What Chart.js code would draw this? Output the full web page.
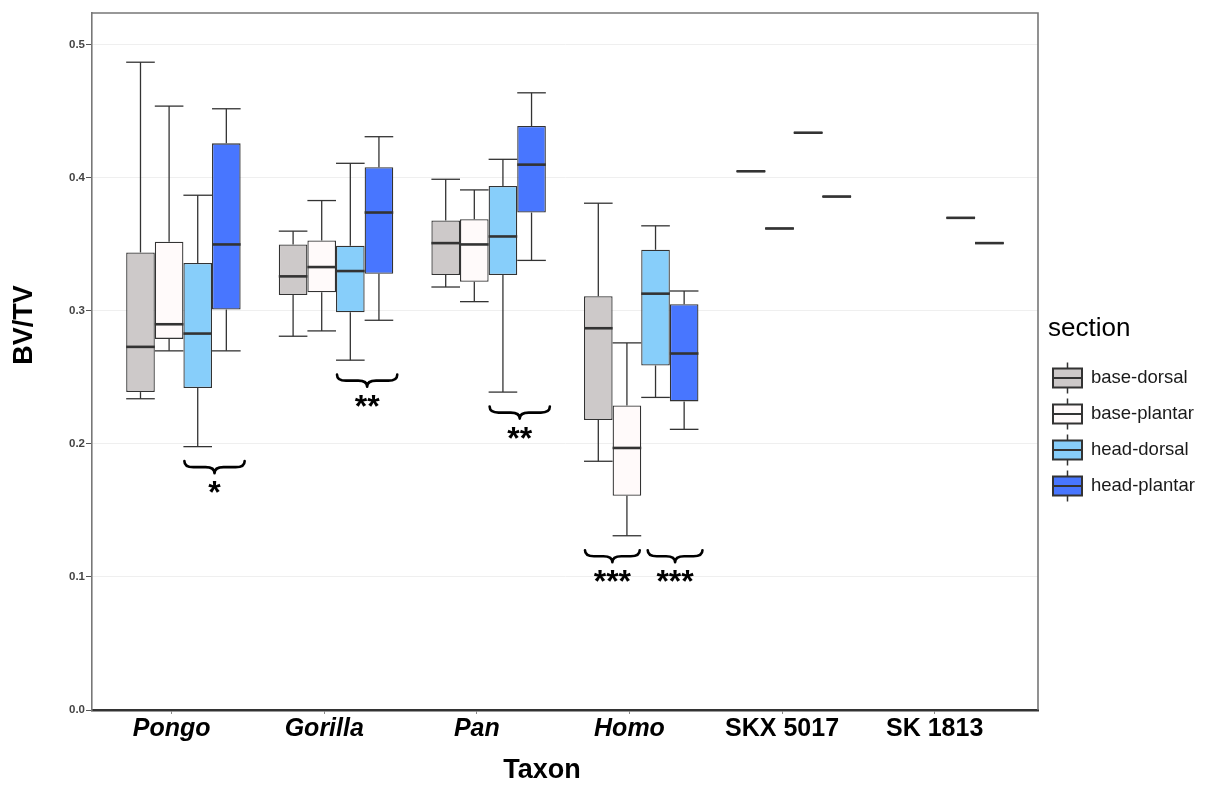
<!DOCTYPE html>
<html>
<head>
<meta charset="utf-8">
<script src="https://cdn.jsdelivr.net/npm/chart.js@4/dist/chart.umd.min.js"></script>
<style>
  html, body { margin: 0; padding: 0; background: #ffffff; }
  #wrap { width: 1205px; height: 785px; position: relative; }
</style>
</head>
<body>
<div id="wrap"><canvas id="chart" width="1205" height="785"></canvas></div>
<script>
// ---- data ---------------------------------------------------------------
const taxa = ['Pongo', 'Gorilla', 'Pan', 'Homo', 'SKX 5017', 'SK 1813'];
const genusTaxa = ['Pongo', 'Gorilla', 'Pan', 'Homo'];
const sections = ['base-dorsal', 'base-plantar', 'head-dorsal', 'head-plantar'];
const yTickValues = [0.0, 0.1, 0.2, 0.3, 0.4, 0.5];

// [lower whisker, Q1, median, Q3, upper whisker] per taxon;
// fossil specimens contribute a single value, null = section not measured
const baseDorsal = [
  [0.234, 0.239, 0.273, 0.344, 0.487],
  [0.281, 0.312, 0.326, 0.350, 0.360],
  [0.318, 0.327, 0.351, 0.368, 0.399],
  [0.187, 0.218, 0.287, 0.311, 0.381],
  0.405,
  null
];
const basePlantar = [
  [0.270, 0.279, 0.290, 0.352, 0.454],
  [0.285, 0.314, 0.333, 0.353, 0.383],
  [0.307, 0.322, 0.350, 0.369, 0.391],
  [0.131, 0.161, 0.197, 0.229, 0.276],
  0.362,
  null
];
const headDorsal = [
  [0.198, 0.242, 0.283, 0.336, 0.387],
  [0.263, 0.299, 0.330, 0.349, 0.411],
  [0.239, 0.327, 0.356, 0.394, 0.414],
  [0.235, 0.259, 0.313, 0.346, 0.364],
  0.434,
  0.370
];
const headPlantar = [
  [0.270, 0.301, 0.350, 0.426, 0.452],
  [0.293, 0.328, 0.374, 0.408, 0.431],
  [0.338, 0.374, 0.410, 0.439, 0.464],
  [0.211, 0.232, 0.268, 0.305, 0.315],
  0.386,
  0.351
];

// pairwise differences between sections within a taxon
const comparisons = [
  { taxon: 'Pongo',   pair: ['head-dorsal', 'head-plantar'], label: '*' },
  { taxon: 'Gorilla', pair: ['head-dorsal', 'head-plantar'], label: '**' },
  { taxon: 'Pan',     pair: ['head-dorsal', 'head-plantar'], label: '**' },
  { taxon: 'Homo',    pair: ['base-dorsal', 'base-plantar'], label: '***' },
  { taxon: 'Homo',    pair: ['head-dorsal', 'head-plantar'], label: '***' }
];

// ---- styling ------------------------------------------------------------
const FONT = '"Liberation Sans", Arial, Helvetica, sans-serif';
const fills = ['#CDC9C9', '#FFFAFA', '#87CEFA', '#4876FF'];
const INK = '#333333';
const FRAME = '#777777';
const GROUP_SHIFT = 0.077;      // dodged groups sit slightly right of the tick
const BRACE_GAP = 14.5;         // px below the lowest whisker of a taxon
const BRACE_H = 12;
const BRACE_SEP = 8;            // px kept between neighbouring braces
const STAR_OFFSET = 26;

const summaries = [baseDorsal, basePlantar, headDorsal, headPlantar];
const fiveNum = s => (typeof s === 'number' ? [s, s, s, s, s] : s);

const datasets = sections.map((name, k) => ({
  label: name,
  data: summaries[k]
    .map((s, i) => {
      if (s == null) return null;
      const f = fiveNum(s);
      return { x: i + GROUP_SHIFT, y: [f[1], f[3]], stats: f, taxon: i };
    })
    .filter(Boolean),
  backgroundColor: fills[k],
  borderColor: INK,
  borderWidth: 1.3,
  borderSkipped: false,
  categoryPercentage: 0.75,
  barPercentage: 1.0
}));

function line(ctx, x1, y1, x2, y2) {
  ctx.beginPath();
  ctx.moveTo(x1, y1);
  ctx.lineTo(x2, y2);
  ctx.stroke();
}

// whiskers behind the boxes, medians on top
const boxplotParts = {
  id: 'boxplotParts',
  beforeDatasetsDraw(chart) {
    const { ctx } = chart;
    const ys = chart.scales.y;
    ctx.save();
    ctx.strokeStyle = INK;
    ctx.lineWidth = 1.3;
    chart.data.datasets.forEach((ds, d) => {
      chart.getDatasetMeta(d).data.forEach((bar, j) => {
        const [lo, q1, , q3, hi] = ds.data[j].stats;
        const cx = bar.x, h = bar.width / 2;
        line(ctx, cx, ys.getPixelForValue(hi), cx, ys.getPixelForValue(q3));
        line(ctx, cx, ys.getPixelForValue(q1), cx, ys.getPixelForValue(lo));
        line(ctx, cx - h, ys.getPixelForValue(hi), cx + h, ys.getPixelForValue(hi));
        line(ctx, cx - h, ys.getPixelForValue(lo), cx + h, ys.getPixelForValue(lo));
      });
    });
    ctx.restore();
  },
  afterDatasetsDraw(chart) {
    const { ctx } = chart;
    const ys = chart.scales.y;
    ctx.save();
    ctx.strokeStyle = INK;
    ctx.lineWidth = 2.6;
    chart.data.datasets.forEach((ds, d) => {
      chart.getDatasetMeta(d).data.forEach((bar, j) => {
        const med = ds.data[j].stats[2];
        const py = ys.getPixelForValue(med);
        line(ctx, bar.x - bar.width / 2, py, bar.x + bar.width / 2, py);
      });
    });
    ctx.restore();
  }
};

// curly braces with significance stars under compared pairs
const significance = {
  id: 'significance',
  afterDatasetsDraw(chart) {
    const { ctx } = chart;
    const ys = chart.scales.y;
    const barFor = (section, ti) => {
      const d = sections.indexOf(section);
      const j = chart.data.datasets[d].data.findIndex(p => p.taxon === ti);
      return chart.getDatasetMeta(d).data[j];
    };

    const braces = comparisons.map(c => {
      const ti = taxa.indexOf(c.taxon);
      let lowest = Infinity;
      summaries.forEach(s => { if (s[ti] != null) lowest = Math.min(lowest, fiveNum(s[ti])[0]); });
      const b1 = barFor(c.pair[0], ti), b2 = barFor(c.pair[1], ti);
      return {
        ti,
        label: c.label,
        top: ys.getPixelForValue(lowest) + BRACE_GAP,
        x0: b1.x - b1.width / 2 + 1,
        x1: b2.x + b2.width / 2 + 4
      };
    });
    // keep neighbouring braces of the same taxon apart
    for (let i = 1; i < braces.length; i++) {
      const p = braces[i - 1], b = braces[i];
      if (p.ti === b.ti && p.x1 > b.x0 - BRACE_SEP) {
        const m = (p.x1 + b.x0) / 2;
        p.x1 = m - BRACE_SEP / 2;
        b.x0 = m + BRACE_SEP / 2;
      }
    }

    ctx.save();
    braces.forEach(b => {
      const { x0, x1, top } = b;
      const xm = (x0 + x1) / 2, mid = top + BRACE_H / 2, r = BRACE_H * 0.75;
      ctx.strokeStyle = '#000000';
      ctx.lineWidth = 2.6;
      ctx.lineCap = 'round';
      ctx.lineJoin = 'round';
      ctx.beginPath();
      ctx.moveTo(x0, top);
      ctx.quadraticCurveTo(x0, mid, x0 + r, mid);
      ctx.lineTo(xm - r, mid);
      ctx.quadraticCurveTo(xm, mid, xm, top + BRACE_H);
      ctx.quadraticCurveTo(xm, mid, xm + r, mid);
      ctx.lineTo(x1 - r, mid);
      ctx.quadraticCurveTo(x1, mid, x1, top);
      ctx.stroke();

      ctx.fillStyle = '#000000';
      ctx.font = 'bold 32px ' + FONT;
      ctx.textAlign = 'center';
      ctx.textBaseline = 'alphabetic';
      const m = ctx.measureText(b.label);
      const yc = top + STAR_OFFSET;
      const base = yc + (m.actualBoundingBoxAscent - m.actualBoundingBoxDescent) / 2;
      ctx.fillText(b.label, xm, base);
    });
    ctx.restore();
  }
};

// top and right sides of the panel frame, axis titles and the legend
const frameAndLegend = {
  id: 'frameAndLegend',
  afterDraw(chart) {
    const { ctx, chartArea: a } = chart;
    ctx.save();
    ctx.strokeStyle = FRAME;
    ctx.lineWidth = 1.6;
    ctx.beginPath();
    ctx.moveTo(a.left, a.top);
    ctx.lineTo(a.right, a.top);
    ctx.lineTo(a.right, a.bottom);
    ctx.stroke();

    // axis titles
    ctx.fillStyle = '#000000';
    ctx.font = 'bold 27px ' + FONT;
    ctx.textAlign = 'center';
    ctx.textBaseline = 'middle';
    ctx.fillText('Taxon', 542, 771);
    ctx.save();
    ctx.translate(25, 325);
    ctx.rotate(-Math.PI / 2);
    ctx.fillText('BV/TV', 0, 0);
    ctx.restore();

    // legend
    const lx = a.right + 10;
    ctx.textAlign = 'left';
    ctx.textBaseline = 'alphabetic';
    ctx.fillStyle = '#000000';
    ctx.font = '26px ' + FONT;
    ctx.fillText('section', lx, 336);
    sections.forEach((name, k) => {
      const cy = 378 + 36 * k;
      const gx = a.right + 15, gw = 29, gh = 19;
      ctx.strokeStyle = INK;
      ctx.lineWidth = 1.5;
      line(ctx, gx + gw / 2, cy - 15.5, gx + gw / 2, cy + 15.5);
      ctx.fillStyle = fills[k];
      ctx.fillRect(gx, cy - gh / 2, gw, gh);
      ctx.lineWidth = 2;
      ctx.strokeRect(gx, cy - gh / 2, gw, gh);
      line(ctx, gx, cy, gx + gw, cy);
      ctx.fillStyle = '#1a1a1a';
      ctx.font = '18.5px ' + FONT;
      ctx.textBaseline = 'middle';
      ctx.fillText(name, a.right + 53, cy);
      ctx.textBaseline = 'alphabetic';
    });
    ctx.restore();
  }
};

new Chart(document.getElementById('chart'), {
  type: 'bar',
  data: { datasets },
  plugins: [boxplotParts, significance, frameAndLegend],
  options: {
    responsive: false,
    animation: false,
    events: [],
    layout: { padding: { top: 13, right: 167, bottom: 0, left: 0 } },
    plugins: { legend: { display: false }, tooltip: { enabled: false }, title: { display: false } },
    scales: {
      x: {
        type: 'linear',
        min: -0.522,
        max: 5.677,
        offset: false,
        afterFit: s => { s.height = 75; },
        afterBuildTicks: s => { s.ticks = taxa.map((t, i) => ({ value: i })); },
        grid: { display: true, drawOnChartArea: false, offset: false, tickLength: 4, tickColor: '#8a8a8a', tickWidth: 1 },
        border: { display: true, color: INK, width: 2.6 },
        ticks: {
          autoSkip: false,
          maxRotation: 0,
          padding: 0,
          color: '#000000',
          callback: v => taxa[v],
          font: c => ({
            family: FONT,
            size: 25,
            weight: 'bold',
            style: genusTaxa.includes(taxa[c.tick && c.tick.value]) ? 'italic' : 'normal'
          })
        }
      },
      y: {
        type: 'linear',
        min: 0,
        max: 0.524,
        afterFit: s => { s.width = 92; },
        afterBuildTicks: s => { s.ticks = yTickValues.map(v => ({ value: v })); },
        grid: { color: '#efefef', lineWidth: 1, tickLength: 6, tickColor: '#555555', drawTicks: true },
        border: { display: true, color: FRAME, width: 1.6 },
        ticks: {
          padding: 1,
          color: '#444444',
          font: { family: FONT, size: 11.5, weight: 'bold' },
          callback: v => v.toFixed(1)
        }
      }
    }
  }
});
</script>
</body>
</html>
